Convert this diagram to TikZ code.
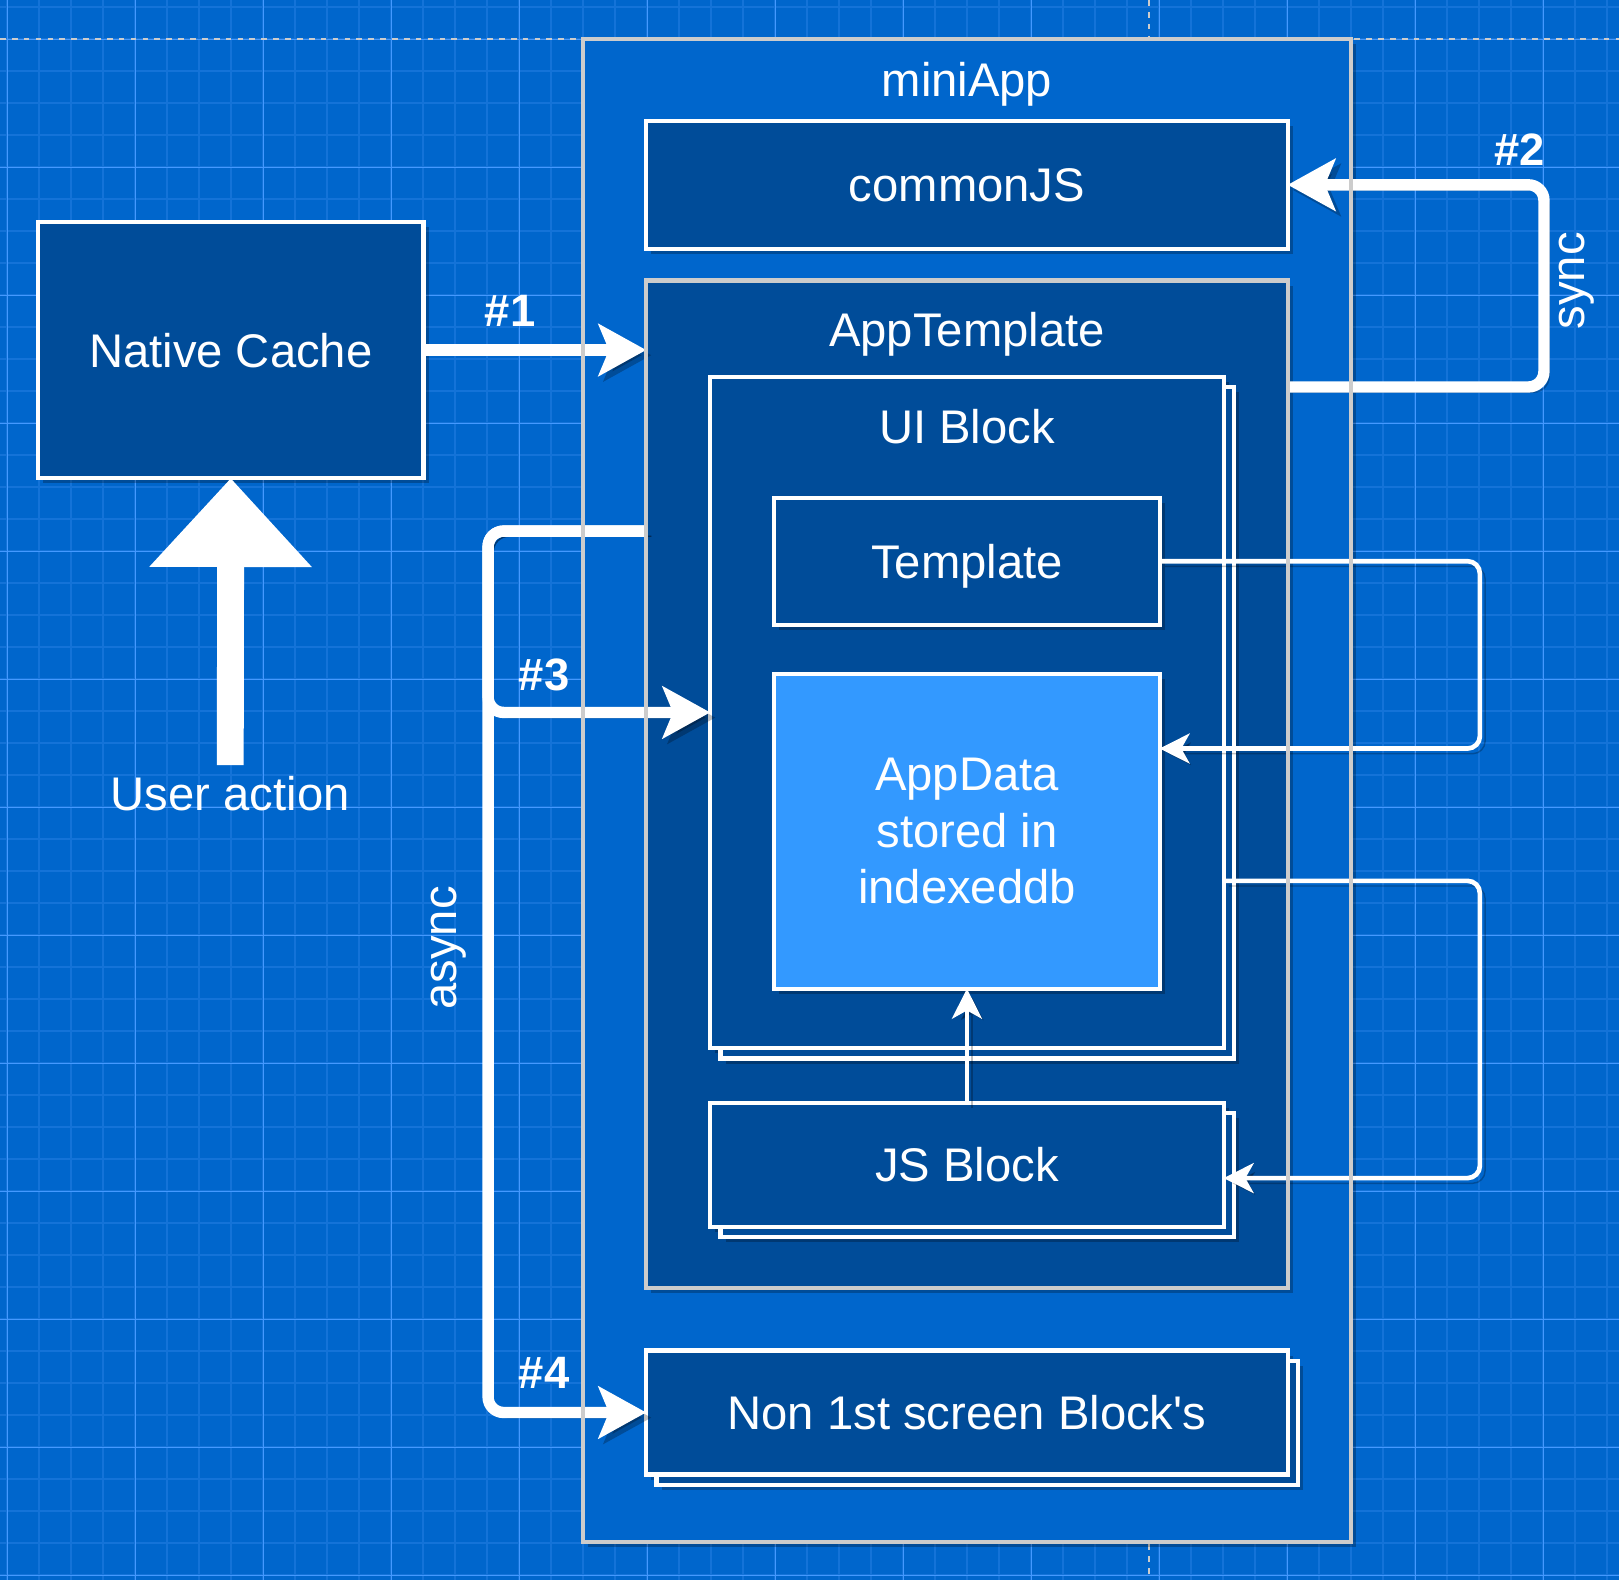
\documentclass[tikz,border=0pt]{standalone}
\usepackage{fontspec}
\newfontfamily\lsans{Liberation Sans}
\usetikzlibrary{arrows.meta,positioning,shadows}
\definecolor{bpbg}{HTML}{0066CC}
\definecolor{bpdark}{HTML}{004C99}
\definecolor{bplight}{HTML}{3399FF}
\definecolor{bpminor}{HTML}{1473D8}
\definecolor{bpmajor}{HTML}{4499FF}
\definecolor{bpgray}{HTML}{CCCCCC}

\begin{document}
\begin{tikzpicture}[x=0.01cm,y=-0.01cm,font=\lsans\fontsize{13}{15.5}\selectfont,text=white,
  box/.style={draw=white,line width=0.04cm,fill=bpdark,inner sep=0pt,outer sep=0pt,drop shadow={shadow xshift=0.05cm,shadow yshift=-0.05cm,opacity=0.25,fill=black,draw=none}},
  oneline/.style={text height=0.94em,text depth=0pt},
  container/.style={box,draw=bpgray},
  stackbox/.style={box,drop shadow={shadow xshift=0.15cm,shadow yshift=-0.15cm,opacity=0.25,fill=black,draw=none},copy shadow={shadow xshift=0.1cm,shadow yshift=-0.1cm}},
  title/.style={inner sep=0pt,text height=0.72em,text depth=0pt},
  tag/.style={inner sep=0pt,anchor=base,font=\lsans\bfseries\fontsize{12.5}{15}\selectfont},
  lineshadow/.style={preaction={draw=black,opacity=0.25,transform canvas={shift={(0.05cm,-0.05cm)}}}},
  bigedge/.style={draw=white,line width=0.11cm,rounded corners=0.15cm,-{Stealth[length=0.46cm,width=0.5cm,inset=0.1cm]},lineshadow},
  thinedge/.style={draw=white,line width=0.045cm,rounded corners=0.12cm,-{Stealth[length=0.29cm,width=0.29cm,inset=0.08cm]},lineshadow},
  gridminor/.style={draw=bpminor,line width=0.02cm},
  gridmajor/.style={draw=bpmajor,line width=0.01cm},
  pagebreak/.style={draw=bpgray,line width=0.015cm,dash pattern=on 0.055cm off 0.06cm}]
\useasboundingbox (0,0) rectangle (1568,1530);
\fill[bpbg] (0,0) rectangle (1568,1530);
% blueprint grid
\foreach \k in {0,...,50}{
  \draw[gridminor] ({6.8+31*\k},0) -- ({6.8+31*\k},1530);
  \draw[gridminor] (0,{6.8+31*\k}) -- (1568,{6.8+31*\k});}
\foreach \k in {0,...,12}{
  \draw[gridmajor] ({6.8+124*\k},0) -- ({6.8+124*\k},1530);
  \draw[gridmajor] (0,{37.8+124*\k}) -- (1568,{37.8+124*\k});}
\draw[pagebreak] (0,38) -- (1568,38) (1113,0) -- (1113,1530);

% boxes
\node[container,fill=bpbg,minimum width=7.43cm,minimum height=14.55cm] (miniapp) at (936.5,765.5) {};
\node[title,below=0.30cm of miniapp.north] (miniapptitle) {miniApp};
\node[box,oneline,minimum width=6.21cm,minimum height=1.24cm] (commonjs) at (936.5,179) {commonJS};
\node[container,minimum width=6.21cm,minimum height=9.75cm] (apptpl) at (936.5,759.5) {};
\node[title,below=0.38cm of apptpl.north] (apptpltitle) {AppTemplate};
\node[stackbox,minimum width=4.97cm,minimum height=6.5cm] (uiblock) at (936.5,690) {};
\node[title,below=0.39cm of uiblock.north] (uiblocktitle) {UI Block};
\node[box,oneline,minimum width=3.73cm,minimum height=1.23cm] (template) at (936.5,543.5) {Template};
\node[box,fill=bplight,align=center,minimum width=3.73cm,minimum height=3.05cm] (appdata) at (936.5,805) {AppData\\stored in\\indexeddb};
\node[stackbox,oneline,minimum width=4.97cm,minimum height=1.2cm] (jsblock) at (936.5,1128) {JS Block};
\node[stackbox,oneline,minimum width=6.21cm,minimum height=1.2cm] (non1st) at (936.5,1368) {Non 1st screen Block's};
\node[box,oneline,minimum width=3.73cm,minimum height=2.48cm] (native) at (223.5,339) {Native Cache};

% user action
\coordinate (useract) at (223,741);
\draw[white,line width=0.26cm,-{Triangle[length=0.86cm,width=1.52cm]}] (useract) -- (native.south);
\node[title,below=0.18cm of useract] (useracttext) {User action};

% edges
\draw[bigedge] (native.east) -- (native.east -| apptpl.west);
\draw[bigedge] ([yshift=-1.03cm]apptpl.north east) -| ([xshift=2.48cm]commonjs.east) -- (commonjs.east);
\draw[thinedge] (template.east) -| ([xshift=3.1cm,yshift=0.80cm]appdata.east) -- ([yshift=0.80cm]appdata.east);
\draw[thinedge] ([yshift=-1.63cm]uiblock.east) -| ([xshift=2.48cm,yshift=-0.13cm]jsblock.east) -- ([yshift=-0.13cm]jsblock.east);
\draw[thinedge] (jsblock.north) -- (appdata.south);
\draw[bigedge] ([yshift=2.45cm]apptpl.west) -| ([xshift=-2.15cm]uiblock.west) -- (uiblock.west);
\draw[bigedge] ([yshift=2.45cm]apptpl.west) -| ([xshift=-1.53cm]non1st.west) -- (non1st.west);
\draw[bpgray,line width=0.04cm] (miniapp.north west) rectangle (miniapp.south east) (apptpl.north west) rectangle (apptpl.south east);

% labels
\node[tag] (tag1) at (494,316) {\#1};
\node[tag] (tag2) at (1472,160) {\#2};
\node[tag] (tag3) at (527,669) {\#3};
\node[tag] (tag4) at (527,1345) {\#4};
\node[inner sep=0pt,rotate=90,anchor=base] (synclbl) at (1535,272) {sync};
\node[inner sep=0pt,rotate=90,anchor=base] (asynclbl) at (442,918) {async};
\end{tikzpicture}
\end{document}
